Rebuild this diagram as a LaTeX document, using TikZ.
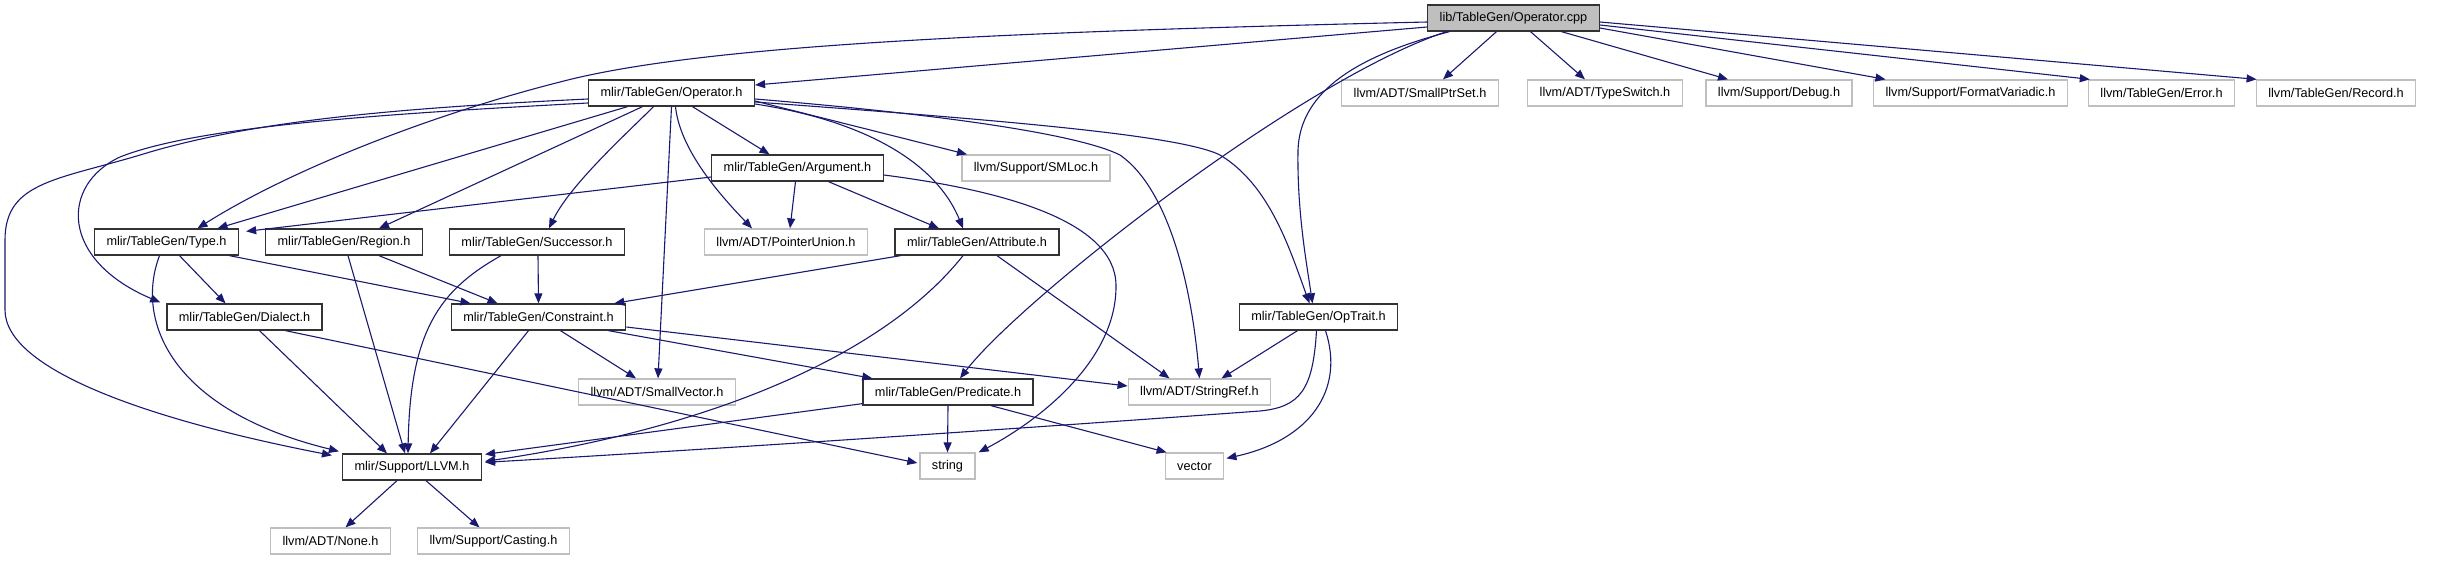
\documentclass[tikz,border=0pt]{standalone}
\usepackage{fontspec}
\setmainfont{Liberation Sans}
\usetikzlibrary{arrows.meta}
\definecolor{edgeblue}{RGB}{25,25,112}
\definecolor{boxgray}{RGB}{191,191,191}

\begin{document}
\begin{tikzpicture}[
  x=1pt, y=-1pt,
  inclbox/.style={draw=black!80, line width=1.3pt, minimum height=26pt,
                  inner xsep=12pt, inner ysep=2pt, font=\fontsize{12.7}{14}\selectfont},
  hdr/.style={inclbox},
  ext/.style={inclbox, draw=boxgray},
  src/.style={inclbox, fill=boxgray},
  arr/.style={-{Triangle[length=10pt,width=8pt]}, draw=edgeblue, line width=1.1pt},
]
\useasboundingbox (0,0) rectangle (2447,560);

% Source file
\node[src] (cpp) at (1513.5,18) {lib/TableGen/Operator.cpp};

% Row 1
\node[hdr] (oph) at (671.5,93) {mlir/TableGen/Operator.h};
\node[ext] (ptrset) at (1420,93) {llvm/ADT/SmallPtrSet.h};
\node[ext] (tswitch) at (1605,93) {llvm/ADT/TypeSwitch.h};
\node[ext] (debug) at (1779,93) {llvm/Support/Debug.h};
\node[ext] (fmtvar) at (1970.5,93) {llvm/Support/FormatVariadic.h};
\node[ext] (error) at (2161.5,93) {llvm/TableGen/Error.h};
\node[ext] (record) at (2336,93) {llvm/TableGen/Record.h};

% Row 2
\node[hdr] (arg) at (797.5,168) {mlir/TableGen/Argument.h};
\node[ext] (smloc) at (1036,168) {llvm/Support/SMLoc.h};

% Row 3
\node[hdr] (type) at (166.5,242) {mlir/TableGen/Type.h};
\node[hdr] (region) at (344,242) {mlir/TableGen/Region.h};
\node[hdr] (succ) at (537,242) {mlir/TableGen/Successor.h};
\node[ext] (ptrunion) at (786,242) {llvm/ADT/PointerUnion.h};
\node[hdr] (attr) at (977,242) {mlir/TableGen/Attribute.h};

% Row 4
\node[hdr] (dialect) at (244.5,317) {mlir/TableGen/Dialect.h};
\node[hdr] (constr) at (538.5,317) {mlir/TableGen/Constraint.h};
\node[hdr] (optrait) at (1318.5,317) {mlir/TableGen/OpTrait.h};

% Row 5
\node[ext] (smallvec) at (657,392) {llvm/ADT/SmallVector.h};
\node[hdr] (pred) at (948,392) {mlir/TableGen/Predicate.h};
\node[ext] (strref) at (1199.5,392) {llvm/ADT/StringRef.h};

% Row 6
\node[hdr] (llvm) at (412,467) {mlir/Support/LLVM.h};
\node[ext] (string) at (947.5,466) {string};
\node[ext] (vector) at (1194.5,466) {vector};

% Row 7
\node[ext] (none) at (330.5,541) {llvm/ADT/None.h};
\node[ext] (casting) at (493.5,541) {llvm/Support/Casting.h};

% Operator.cpp includes
\draw[arr] ([yshift=-9pt]cpp.west) -- ([yshift=8pt]oph.east);
\draw[arr] ([yshift=-4pt]cpp.west) .. controls (1000,32) and (700,45) .. (560,82)
  .. controls (430,115) and (290,170) .. ([xshift=31pt]type.north);
\draw[arr] ([xshift=-64pt]cpp.south) .. controls (1360,55) and (1300,90) .. (1298,150)
  .. controls (1297,210) and (1306,260) .. ([xshift=-6pt]optrait.north);
\draw[arr] ([xshift=-67pt]cpp.south) .. controls (1300,80) and (1020,300) .. ([xshift=12pt]pred.north);
\draw[arr] ([xshift=-17pt]cpp.south) -- ([xshift=23pt]ptrset.north);
\draw[arr] ([xshift=17pt]cpp.south) -- ([xshift=-20pt]tswitch.north);
\draw[arr] ([xshift=48pt]cpp.south) -- ([xshift=-51pt]debug.north);
\draw[arr] ([yshift=-10pt]cpp.east) -- ([xshift=-85pt]fmtvar.north);
\draw[arr] ([yshift=-7pt]cpp.east) -- ([xshift=2pt]error.north west);
\draw[arr] ([yshift=-4pt]cpp.east) -- ([xshift=1pt]record.north west);

% Operator.h includes
\draw[arr] ([xshift=-44pt]oph.south) -- ([xshift=51pt]type.north);
\draw[arr] ([yshift=-6pt]oph.west) .. controls (400,108) and (260,120) .. (150,152)
  .. controls (60,180) and (5,180) .. (5,240) -- (5,310)
  .. controls (5,370) and (150,420) .. ([xshift=-10pt,yshift=-2pt]llvm.north west);
\draw[arr] ([yshift=-10pt]oph.west) .. controls (400,113) and (200,125) .. (120,157)
  .. controls (60,185) and (60,260) .. ([xshift=-6pt,yshift=1pt]dialect.north west);
\draw[arr] ([xshift=-29pt]oph.south) -- ([xshift=35pt]region.north);
\draw[arr] ([xshift=-18pt]oph.south) .. controls (625,135) and (570,185) .. ([xshift=12pt]succ.north);
\draw[arr] (oph.south) -- ([xshift=1pt]smallvec.north);
\draw[arr] ([xshift=4pt]oph.south) .. controls (680,150) and (720,195) .. ([xshift=-34pt]ptrunion.north);
\draw[arr] ([xshift=21pt]oph.south) -- ([xshift=-28pt]arg.north);
\draw[arr] ([yshift=-11pt]oph.east) .. controls (860,120) and (935,160) .. ([xshift=-14pt]attr.north);
\draw[arr] ([yshift=-8pt]oph.east) -- ([xshift=-69pt]smloc.north);
\draw[arr] ([yshift=-6pt]oph.east) .. controls (950,115) and (1080,135) .. (1120,155)
  .. controls (1170,190) and (1192,290) .. (strref.north);
\draw[arr] ([yshift=-9pt]oph.east) .. controls (1000,120) and (1180,135) .. (1220,155)
  .. controls (1270,185) and (1290,250) .. ([xshift=-9pt]optrait.north);

% Argument.h includes
\draw[arr] ([yshift=-9pt]arg.west) -- ([xshift=7pt,yshift=-3pt]type.north east);
\draw[arr] ([xshift=-2pt]arg.south) -- ([xshift=4pt]ptrunion.north);
\draw[arr] ([xshift=31pt]arg.south) -- ([xshift=-38pt]attr.north);
\draw[arr] ([yshift=-7pt]arg.east) .. controls (1000,190) and (1115,220) .. (1116,285)
  .. controls (1117,360) and (1040,420) .. ([xshift=3pt]string.north east);

% Type.h, Region.h, Successor.h includes
\draw[arr] ([xshift=-7pt]type.south) .. controls (135,320) and (170,410) .. ([xshift=-3pt,yshift=2pt]llvm.north west);
\draw[arr] ([xshift=13pt]type.south) -- ([xshift=-19pt]dialect.north);
\draw[arr] ([xshift=63pt]type.south) -- ([xshift=-68pt]constr.north);
\draw[arr] ([xshift=4pt]region.south) -- ([xshift=-7pt]llvm.north);
\draw[arr] ([xshift=35pt]region.south) -- ([xshift=-41pt]constr.north);
\draw[arr] ([xshift=-36pt]succ.south) .. controls (440,290) and (410,330) .. ([xshift=-4pt]llvm.north);
\draw[arr] ([xshift=1pt]succ.south) -- (constr.north);

% Attribute.h includes
\draw[arr] ([xshift=6pt]attr.south west) -- ([xshift=-12pt]constr.north east);
\draw[arr] ([xshift=-14pt]attr.south) .. controls (880,360) and (700,430) .. ([xshift=3pt,yshift=-8pt]llvm.north east);
\draw[arr] ([xshift=20pt]attr.south) -- ([xshift=-30pt]strref.north);

% Dialect.h, Constraint.h includes
\draw[arr] ([xshift=15pt]dialect.south) -- ([xshift=-25pt]llvm.north);
\draw[arr] ([xshift=41pt]dialect.south) -- ([xshift=-2pt,yshift=3pt]string.west);
\draw[arr] ([xshift=-10pt]constr.south) -- ([xshift=18pt]llvm.north);
\draw[arr] ([xshift=22pt]constr.south) -- ([xshift=-21pt]smallvec.north);
\draw[arr] ([xshift=70pt]constr.south) -- ([xshift=10pt]pred.north west);
\draw[arr] ([yshift=-10pt]constr.east) -- ([yshift=6pt]strref.west);

% OpTrait.h includes
\draw[arr] ([xshift=-21pt]optrait.south) -- ([xshift=22pt]strref.north);
\draw[arr] ([xshift=-2pt]optrait.south) .. controls (1313,390) and (1300,407) .. (1260,411)
  .. controls (1000,430) and (700,450) .. ([xshift=3pt,yshift=-9pt]llvm.north east);
\draw[arr] ([xshift=7pt]optrait.south) .. controls (1345,390) and (1310,440) .. ([xshift=2pt,yshift=-6pt]vector.north east);

% Predicate.h includes
\draw[arr] ([yshift=2pt]pred.south west) -- ([xshift=3pt,yshift=-1pt]llvm.north east);
\draw[arr] (pred.south) -- (string.north);
\draw[arr] ([xshift=43pt]pred.south) -- ([xshift=2pt]vector.north west);

% LLVM.h includes
\draw[arr] ([xshift=-15pt]llvm.south) -- ([xshift=15pt]none.north);
\draw[arr] ([xshift=14pt]llvm.south) -- ([xshift=-14pt]casting.north);

\end{tikzpicture}
\end{document}
